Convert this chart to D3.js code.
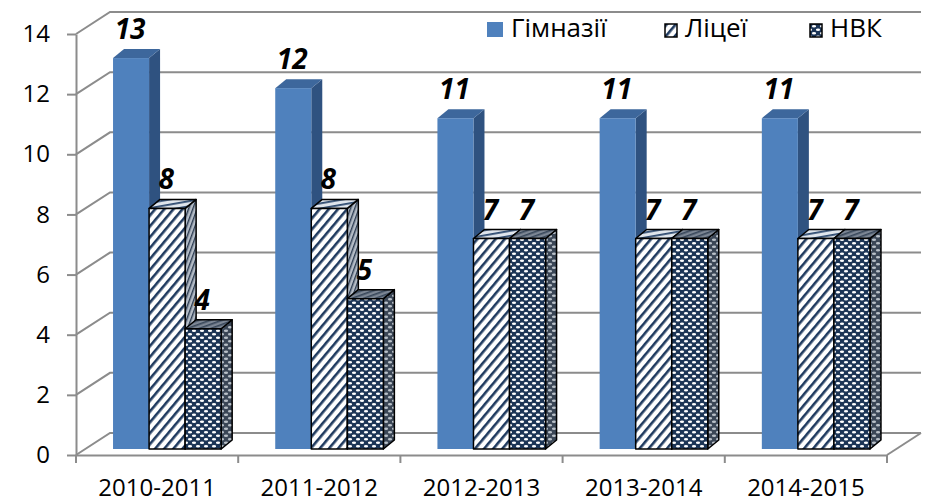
<!DOCTYPE html>
<html>
<head>
<meta charset="utf-8">
<script src="https://cdn.jsdelivr.net/npm/d3@7"></script>
<style>
  body { margin: 0; background: #fff; }
  svg { font-family: "Open Sans", sans-serif; }
</style>
</head>
<body>
<div id="chart"></div>
<script>
const categories = ["2010-2011", "2011-2012", "2012-2013", "2013-2014", "2014-2015"];
const seriesNames = ["Гімназії", "Ліцеї", "НВК"];
const gymnasia = [13, 12, 11, 11, 11];
const lyceums = [8, 8, 7, 7, 7];
const nvk = [4, 5, 7, 7, 7];
const yTicks = [0, 2, 4, 6, 8, 10, 12, 14];

const W = 926, H = 504;
const x0 = 76, floorY = 455, plotW = 811;
const wall = { dx: 34, dy: -22 };   // depth of the back wall
const plane = { dx: 10, dy: -6 };   // bars sit a little behind the front edge
const depth = { dx: 11, dy: -9 };   // bar thickness

const grey = "#8c8c8c";

const svg = d3.select("#chart").append("svg")
  .attr("width", W).attr("height", H);

const defs = svg.append("defs");

function stripePattern(id, bg, fg, size, angle, sw) {
  const p = defs.append("pattern").attr("id", id)
    .attr("patternUnits", "userSpaceOnUse")
    .attr("width", size).attr("height", size)
    .attr("patternTransform", "rotate(" + angle + ")");
  p.append("rect").attr("width", size).attr("height", size).attr("fill", bg);
  p.append("rect").attr("width", sw).attr("height", size).attr("fill", fg);
}

function dotPattern(id, bg, fg) {
  const p = defs.append("pattern").attr("id", id)
    .attr("patternUnits", "userSpaceOnUse")
    .attr("width", 8).attr("height", 7);
  p.append("rect").attr("width", 8).attr("height", 7).attr("fill", bg);
  [[2, 1.8], [6, 5.3]].forEach(([cx, cy]) => {
    p.append("ellipse").attr("cx", cx).attr("cy", cy)
      .attr("rx", 2.1).attr("ry", 1.3).attr("fill", fg);
  });
}

stripePattern("hatchFront", "#ffffff", "#1f3a5f", 7, 40, 2.6);
stripePattern("hatchSide", "#b4bcc6", "#2a3a50", 4, 20, 1.4);
stripePattern("hatchTop", "#dfe5ec", "#2d4a70", 5, 80, 1.8);
dotPattern("dotFront", "#1c3556", "#ffffff");
dotPattern("dotSide", "#3a4656", "#b9c0c8");
stripePattern("dotTop", "#7c8694", "#38475a", 4, 70, 1.6);

const styles = [
  { front: "#4f81bd", side: "#2f5280", top: "#3d679c", stroke: "none" },
  { front: "url(#hatchFront)", side: "url(#hatchSide)", top: "url(#hatchTop)", stroke: "#000" },
  { front: "url(#dotFront)", side: "url(#dotSide)", top: "url(#dotTop)", stroke: "#000" }
];

const y = d3.scaleLinear().domain([0, 14]).range([floorY, floorY - 421]);
const xCat = d3.scaleBand().domain(categories).range([x0, x0 + plotW]);
const bw = xCat.bandwidth() / 4.5;
const xSer = d3.scaleBand().domain(seriesNames)
  .range([bw * 0.75, bw * 3.75]);

// back wall grid + left wall diagonals
const grid = svg.append("g").attr("stroke", grey).attr("stroke-width", 2).attr("fill", "none");
yTicks.forEach((t) => {
  const yy = y(t);
  grid.append("path").attr("d",
    "M" + x0 + "," + yy + "L" + (x0 + wall.dx) + "," + (yy + wall.dy) +
    "L" + (x0 + plotW + wall.dx) + "," + (yy + wall.dy));
});
// floor
grid.append("path").attr("d",
  "M" + (x0 + plotW) + "," + floorY + "L" + (x0 + plotW + wall.dx) + "," + (floorY + wall.dy));

// y axis
const yAxisG = svg.append("g")
  .attr("transform", "translate(" + x0 + ",0)")
  .call(d3.axisLeft(y).tickValues(yTicks).tickSize(9).tickPadding(17).tickSizeOuter(0));
yAxisG.select(".domain").attr("stroke", grey).attr("stroke-width", 2);
yAxisG.selectAll(".tick line").attr("stroke", grey).attr("stroke-width", 2);
yAxisG.selectAll("text").attr("font-size", 24).attr("fill", "#000")
  .attr("font-family", "Open Sans");

// x axis: ticks at category boundaries, labels in between
const xAxisG = svg.append("g")
  .attr("transform", "translate(0," + floorY + ")")
  .call(d3.axisBottom(xCat).tickSize(0).tickPadding(24).tickSizeOuter(0));
xAxisG.select(".domain").attr("stroke", grey).attr("stroke-width", 2);
xAxisG.selectAll("text").attr("font-size", 24).attr("fill", "#000")
  .attr("font-family", "Open Sans");
const bounds = categories.map((c) => xCat(c)).concat([x0 + plotW]);
xAxisG.selectAll(".bound").data(bounds).enter().append("line")
  .attr("x1", (d) => d).attr("x2", (d) => d)
  .attr("y1", 0).attr("y2", 8)
  .attr("stroke", grey).attr("stroke-width", 2);

// bars
const rows = [];
categories.forEach((c, i) => {
  [gymnasia, lyceums, nvk].forEach((vals, s) => {
    rows.push({ cat: c, s: s, name: seriesNames[s], v: vals[i] });
  });
});

const barsG = svg.append("g");
rows.forEach((d) => {
  const st = styles[d.s];
  const xl = xCat(d.cat) + xSer(d.name) + plane.dx;
  const xr = xl + xSer.bandwidth();
  const yb = y(0) + plane.dy;
  const yt = y(d.v) + plane.dy;
  const g = barsG.append("g")
    .attr("stroke", st.stroke).attr("stroke-width", 1.5)
    .attr("stroke-linejoin", "round");
  g.append("path").attr("fill", st.side).attr("d",
    "M" + xr + "," + yt + "L" + (xr + depth.dx) + "," + (yt + depth.dy) +
    "L" + (xr + depth.dx) + "," + (yb + depth.dy) + "L" + xr + "," + yb + "Z");
  g.append("path").attr("fill", st.top).attr("d",
    "M" + xl + "," + yt + "L" + (xl + depth.dx) + "," + (yt + depth.dy) +
    "L" + (xr + depth.dx) + "," + (yt + depth.dy) + "L" + xr + "," + yt + "Z");
  g.append("rect").attr("fill", st.front)
    .attr("x", xl).attr("y", yt).attr("width", xr - xl).attr("height", yb - yt);
  svg.append("text")
    .attr("x", (xl + xr) / 2 - 1).attr("y", yt + depth.dy - 10)
    .attr("text-anchor", "middle")
    .attr("font-size", 28).attr("font-weight", "bold").attr("font-style", "italic")
    .attr("fill", "#000")
    .text(d.v);
});

// legend
const legend = [
  { name: seriesNames[0], x: 487, fill: styles[0].front, w: 16, h: 15, stroke: "none" },
  { name: seriesNames[1], x: 665, fill: "url(#hatchFront)", w: 12, h: 13, stroke: "#000" },
  { name: seriesNames[2], x: 810, fill: "url(#dotFront)", w: 12, h: 13, stroke: "#000" }
];
const lg = svg.append("g").selectAll("g").data(legend).enter().append("g");
lg.append("rect")
  .attr("x", (d) => d.x).attr("y", (d) => 37 - d.h)
  .attr("width", (d) => d.w).attr("height", (d) => d.h)
  .attr("fill", (d) => d.fill).attr("stroke", (d) => d.stroke).attr("stroke-width", 1.5);
lg.append("text")
  .attr("x", (d) => d.x + d.w + 8).attr("y", 37)
  .attr("font-size", 26).attr("fill", "#000")
  .text((d) => d.name);
</script>
</body>
</html>
